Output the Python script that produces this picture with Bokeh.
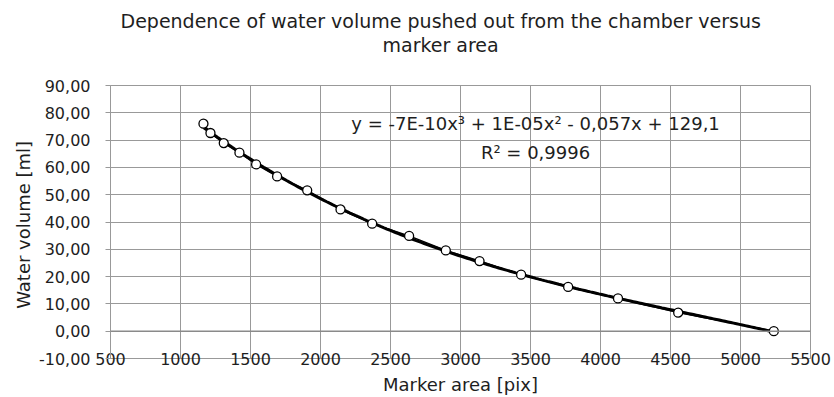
import numpy as np
from bokeh.plotting import figure
from bokeh.models import FixedTicker, Label, Span, Title
from bokeh.embed import file_html
from bokeh.resources import INLINE

# ---- data ----
marker_area = [1164, 1214, 1309, 1421, 1540, 1690, 1905, 2143, 2369, 2633,
               2895, 3136, 3433, 3769, 4125, 4555, 5238]
water_volume = [76.0, 72.6, 68.9, 65.4, 61.1, 56.7, 51.6, 44.6, 39.4, 34.9,
                29.6, 25.7, 20.7, 16.2, 12.0, 6.8, 0.0]

x_ticks = [500, 1000, 1500, 2000, 2500, 3000, 3500, 4000, 4500, 5000, 5500]
y_ticks = [-10, 0, 10, 20, 30, 40, 50, 60, 70, 80, 90]
y_tick_labels = ["-10,00", "0,00", "10,00", "20,00", "30,00", "40,00",
                 "50,00", "60,00", "70,00", "80,00", "90,00"]

title_line1 = "Dependence of water volume pushed out from the  chamber versus"
title_line2 = "marker area"
x_title = "Marker area [pix]"
y_title = "Water volume  [ml]"
equation = "y = -7E-10x³ + 1E-05x² - 0,057x + 129,1"
r_squared = "R² = 0,9996"

FONT = "DejaVu Sans"
GRID = "#999999"
TXT = "#1e1e1e"

p = figure(width=834, height=397, x_range=(500, 5500), y_range=(-10, 90),
           output_backend="svg", toolbar_location=None,
           min_border_left=110, min_border_right=24, min_border_top=85,
           min_border_bottom=39)
p.title = None

# chart title: two lines stacked above the plot area
t2 = Title(text=title_line2, align="left", offset=272, standoff=60,
           text_font=FONT, text_font_size="19px", text_font_style="normal",
           text_color=TXT)
t1 = Title(text=title_line1, align="left", offset=10, standoff=-60,
           text_font=FONT, text_font_size="19px", text_font_style="normal",
           text_color=TXT)
p.add_layout(t2, "above")
p.add_layout(t1, "above")

p.outline_line_color = GRID
p.outline_line_width = 1
p.background_fill_color = "white"
p.border_fill_color = "white"

# axes
p.xaxis.ticker = FixedTicker(ticks=x_ticks)
p.yaxis.ticker = FixedTicker(ticks=y_ticks)
p.yaxis.major_label_overrides = {t: l for t, l in zip(y_ticks, y_tick_labels)}
p.xaxis.major_label_overrides = {t: str(t) for t in x_ticks}
for ax in (p.xaxis[0], p.yaxis[0]):
    ax.major_label_text_font = FONT
    ax.major_label_text_font_size = "16px"
    ax.major_label_text_color = TXT
    ax.axis_label_text_font = FONT
    ax.axis_label_text_font_size = "18px"
    ax.axis_label_text_font_style = "normal"
    ax.axis_label_text_color = TXT
    ax.axis_line_color = GRID
    ax.minor_tick_line_color = None
    ax.major_tick_line_color = GRID
    ax.major_tick_in = 0

p.xaxis.major_tick_out = 0
p.xaxis.major_label_standoff = -6
p.xaxis.axis_label = x_title
p.xaxis.axis_label_standoff = 6

p.yaxis.major_tick_out = 5
p.yaxis.major_label_standoff = 15
p.yaxis.axis_label = y_title
p.yaxis.axis_label_standoff = 2

p.xgrid.grid_line_color = GRID
p.ygrid.grid_line_color = GRID

p.add_layout(Span(location=0, dimension="width", line_color="#8a8a8a", line_width=1.5))

# polynomial (3rd order) trend line fitted to the data
coef = np.polyfit(marker_area, water_volume, 3)
xs = np.linspace(min(marker_area), max(marker_area), 200)
p.line(xs, np.polyval(coef, xs), line_color="black", line_width=3)

# data line and markers
p.line(marker_area, water_volume, line_color="black", line_width=1.5)
p.scatter(marker_area, water_volume, marker="circle", size=9,
          fill_color="white", line_color="black", line_width=1.3)

# equation text
p.add_layout(Label(x=3536, y=76.1, text=equation, text_align="center",
                   text_baseline="middle", text_font=FONT, text_font_size="18px",
                   text_color=TXT))
p.add_layout(Label(x=3536, y=65.5, text=r_squared, text_align="center",
                   text_baseline="middle", text_font=FONT, text_font_size="18px",
                   text_color=TXT))

open("out.html", "w").write(file_html(p, INLINE))
